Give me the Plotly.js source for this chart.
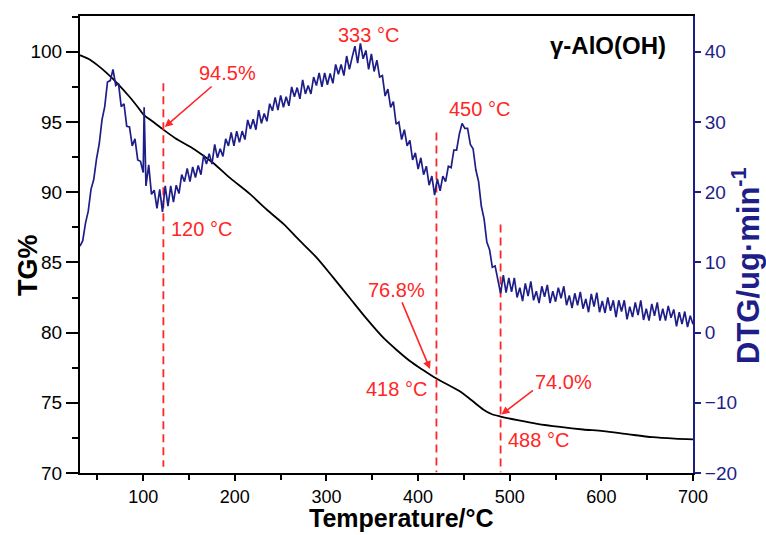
<!DOCTYPE html>
<html><head><meta charset="utf-8">
<script src="https://cdn.plot.ly/plotly-3.0.1.min.js"></script>
<style>html,body{margin:0;padding:0;background:#fff}#chart{width:766px;height:535px}</style>
</head><body><div id="chart"></div>
<script>
// ---- TG curve (left axis, %) ----
const tgTemp  = [31, 40, 50, 60, 72, 85, 94, 100, 110, 120, 135, 156, 176, 195, 216, 235, 253, 270, 289, 307, 325, 343, 362, 376, 391, 405, 418, 432, 445, 458, 471, 480, 490, 510, 530, 555, 580, 602, 630, 656, 680, 700];
const tgValue = [99.76, 99.5, 99.05, 98.5, 97.74, 96.8, 96.07, 95.55, 95.05, 94.55, 93.85, 93.05, 92.1, 91.0, 89.9, 88.75, 87.74, 86.6, 85.36, 83.95, 82.5, 81.05, 79.64, 78.8, 77.98, 77.35, 76.8, 76.3, 75.84, 75.2, 74.53, 74.2, 74.02, 73.74, 73.5, 73.28, 73.1, 72.98, 72.75, 72.55, 72.45, 72.4];

// ---- DTG curve (right axis, ug/min) ----
const dtgTemp = [31, 34, 37, 40, 43, 46, 49, 52, 55, 58, 61, 64, 67, 70, 73, 76, 79, 82, 85, 88, 91, 94, 97, 100, 101, 102, 103, 106, 109, 112, 115, 118, 121, 124, 127, 130, 133, 136, 139, 142, 145, 148, 151, 154, 157, 160, 163, 166, 169, 172, 175, 178, 181, 184, 187, 190, 193, 196, 199, 202, 205, 208, 211, 214, 217, 220, 223, 226, 229, 232, 235, 238, 241, 244, 247, 250, 253, 256, 259, 262, 265, 268, 271, 274, 277, 280, 283, 286, 289, 292, 295, 298, 301, 304, 307, 310, 313, 316, 319, 322, 325, 328, 331, 334, 337, 340, 343, 346, 349, 352, 355, 358, 361, 364, 367, 370, 373, 376, 379, 382, 385, 388, 391, 394, 397, 400, 403, 406, 409, 412, 415, 418, 421, 424, 427, 430, 433, 436, 439, 442, 445, 448, 451, 454, 457, 460, 463, 466, 469, 472, 475, 478, 481, 484, 487, 490, 493, 496, 499, 502, 505, 508, 511, 514, 517, 520, 523, 526, 529, 532, 535, 538, 541, 544, 547, 550, 553, 556, 559, 562, 565, 568, 571, 574, 577, 580, 583, 586, 589, 592, 595, 598, 601, 604, 607, 610, 613, 616, 619, 622, 625, 628, 631, 634, 637, 640, 643, 646, 649, 652, 655, 658, 661, 664, 667, 670, 673, 676, 679, 682, 685, 688, 691, 694, 697, 700];
const dtgValue = [12.3, 13.1, 15.6, 17.3, 20.4, 21.8, 24.7, 26.9, 30.3, 32.2, 35.7, 35.9, 37.5, 35.2, 35.5, 32.2, 32.6, 29.4, 29.3, 26.6, 27.6, 24.6, 24.4, 22.8, 32.1, 22.6, 20.9, 23.9, 19.7, 20.3, 17.7, 20.4, 17.2, 20.9, 18.0, 20.9, 18.6, 21.0, 19.8, 22.5, 21.5, 23.4, 21.5, 23.6, 22.1, 23.8, 22.5, 25.3, 24.0, 25.5, 24.0, 26.8, 24.9, 26.2, 25.1, 27.6, 26.6, 28.5, 26.6, 28.7, 27.1, 28.7, 27.5, 30.3, 29.0, 30.4, 28.9, 31.7, 29.8, 31.2, 30.1, 32.6, 31.6, 33.5, 31.7, 33.8, 32.1, 33.6, 32.3, 35.0, 33.6, 34.9, 33.3, 36.0, 34.0, 35.2, 34.0, 36.4, 35.2, 37.0, 35.0, 37.0, 35.3, 36.9, 35.5, 38.2, 36.8, 38.2, 36.6, 39.4, 37.5, 39.2, 40.8, 38.4, 41.2, 39.0, 40.2, 37.5, 39.7, 37.2, 38.8, 36.4, 36.6, 33.7, 34.7, 32.1, 32.9, 29.7, 30.0, 27.5, 28.9, 26.6, 27.4, 24.6, 25.6, 23.3, 24.9, 22.5, 23.7, 21.0, 22.3, 19.6, 21.9, 20.2, 22.3, 21.5, 23.7, 23.5, 26.0, 26.0, 28.3, 29.8, 29.1, 29.1, 26.8, 26.2, 23.2, 21.5, 18.0, 16.2, 12.9, 11.8, 9.3, 9.5, 7.4, 5.6, 8.2, 5.7, 7.8, 5.8, 7.8, 5.0, 6.4, 4.5, 7.0, 5.2, 7.3, 4.6, 5.9, 4.2, 6.6, 5.1, 6.8, 4.2, 5.9, 4.4, 6.4, 4.9, 6.6, 3.9, 5.3, 3.5, 5.6, 3.9, 5.8, 3.4, 4.8, 2.9, 5.5, 3.7, 5.7, 2.9, 4.5, 2.8, 5.0, 3.1, 4.6, 2.2, 4.6, 3.0, 4.6, 1.9, 3.7, 2.2, 4.3, 2.5, 4.6, 1.8, 3.4, 1.7, 4.1, 2.4, 4.3, 1.7, 3.4, 1.7, 3.8, 2.1, 3.3, 0.9, 2.9, 1.2, 3.0, 0.8, 2.4, 1.2];

// ---- vertical dashed markers (TG-axis units) ----
const markTemp   = [122, 420, 490];
const markTop    = [97.76, 94.26, 87.7];
const markBottom = [70.45, 70.05, 70.05];

// ---- red labels (TG-axis units) ----
const labelText = ['94.5%', '120 \u00B0C', '333 \u00B0C', '450 \u00B0C', '76.8%', '418 \u00B0C', '74.0%', '488 \u00B0C'];
const labelTemp = [192, 164, 346, 467.5, 376, 376, 559, 531];
const labelTG   = [98.5, 87.4, 101.2, 95.9, 83.04, 76.0, 76.51, 72.36];

// ---- arrows (TG-axis units) ----
const arrowHeadT  = [123.5, 413, 491];
const arrowHeadTG = [94.65, 77.4, 74.17];
const arrowTailT  = [176.3, 381.8, 527];
const arrowTailTG = [97.62, 82.26, 75.96];

const sampleName = '\u03B3-AlO(OH)';

const NAVY = '#1e1e88';
const RED = '#ff2626';
const FONT = 'Liberation Sans, Arial, sans-serif';

const markX = [], markY = [];
markTemp.forEach((t, i) => { markX.push(t, t, null); markY.push(markTop[i], markBottom[i], null); });

const traces = [
  {x: dtgTemp, y: dtgValue, yaxis: 'y2', type: 'scatter', mode: 'lines',
   line: {color: NAVY, width: 1.7}, hoverinfo: 'skip'},
  {x: tgTemp, y: tgValue, yaxis: 'y', type: 'scatter', mode: 'lines',
   line: {color: '#000', width: 1.8, shape: 'spline', smoothing: 0.8}, hoverinfo: 'skip'},
  {x: markX, y: markY, yaxis: 'y', type: 'scatter', mode: 'lines',
   line: {color: RED, width: 1.8, dash: '8px,5px'}, hoverinfo: 'skip'}
];

const annotations = [];
labelText.forEach((t, i) => annotations.push({
  x: labelTemp[i], y: labelTG[i], xref: 'x', yref: 'y', text: t, showarrow: false,
  font: {family: FONT, size: 20, color: RED}, xanchor: 'center', yanchor: 'middle'
}));
arrowHeadT.forEach((t, i) => annotations.push({
  x: t, y: arrowHeadTG[i], xref: 'x', yref: 'y', axref: 'x', ayref: 'y',
  ax: arrowTailT[i], ay: arrowTailTG[i], text: '', showarrow: true,
  arrowhead: 2, arrowsize: 1, arrowwidth: 1.6, arrowcolor: RED, standoff: 0, startstandoff: 0
}));
annotations.push({x: 607, y: 100.42, xref: 'x', yref: 'y', text: '<b>' + sampleName + '</b>', showarrow: false,
  xanchor: 'center', yanchor: 'middle', font: {family: FONT, size: 24, color: '#000'}});
annotations.push({x: -0.085, y: 0.455, xref: 'paper', yref: 'paper', text: '<b>TG%</b>', textangle: -90,
  xanchor: 'center', yanchor: 'middle', showarrow: false, font: {family: FONT, size: 27, color: '#000'}});
annotations.push({x: 0.5245, y: -0.1335, xref: 'paper', yref: 'paper', text: '<b>Temperature/\u00B0C</b>',
  xanchor: 'center', yanchor: 'bottom', showarrow: false, font: {family: FONT, size: 25, color: '#000'}});
annotations.push({x: 1.0865, y: 0.453, xref: 'paper', yref: 'paper', text: '<b>DTG/ug\u00B7min<sup>-1</sup></b>', textangle: -90,
  xanchor: 'center', yanchor: 'middle', showarrow: false, font: {family: FONT, size: 31, color: NAVY}});

const layout = {
  width: 766, height: 535,
  margin: {l: 80, r: 73, t: 16, b: 62},
  paper_bgcolor: '#fff', plot_bgcolor: '#fff',
  showlegend: false,
  font: {family: FONT},
  xaxis: {range: [31, 700], tickmode: 'linear', tick0: 100, dtick: 100,
    ticks: 'outside', ticklen: 6, tickwidth: 2, tickcolor: '#000',
    minor: {dtick: 50, tick0: 50, ticks: 'outside', ticklen: 5, tickwidth: 2, tickcolor: '#000'},
    showline: true, linewidth: 2, linecolor: '#000', mirror: true,
    showgrid: false, zeroline: false,
    tickfont: {family: FONT, size: 18, color: '#000'}},
  yaxis: {range: [70, 102.55], tickmode: 'linear', tick0: 70, dtick: 5,
    ticks: 'outside', ticklen: 12, tickwidth: 2, tickcolor: '#000',
    minor: {dtick: 2.5, tick0: 70, ticks: 'outside', ticklen: 6, tickwidth: 2, tickcolor: '#000'},
    showline: true, linewidth: 2, linecolor: '#000',
    showgrid: false, zeroline: false,
    tickfont: {family: FONT, size: 19, color: '#000'}},
  yaxis2: {overlaying: 'y', side: 'right', range: [-20, 45.1], tickmode: 'linear', tick0: -20, dtick: 10,
    ticks: 'outside', ticklen: 6, tickwidth: 2, tickcolor: NAVY,
    showline: true, linewidth: 2, linecolor: NAVY,
    showgrid: false, zeroline: false,
    tickfont: {family: FONT, size: 19, color: NAVY}},
  yaxis3: {overlaying: 'y', side: 'right', range: [70, 102.55], tickmode: 'linear', tick0: 70, dtick: 5,
    ticks: 'inside', ticklen: 8, tickwidth: 2, tickcolor: '#000',
    minor: {dtick: 2.5, tick0: 70, ticks: 'inside', ticklen: 5, tickwidth: 2, tickcolor: '#000'},
    showticklabels: false, showline: false, showgrid: false, zeroline: false},
  annotations: annotations
};

Plotly.newPlot('chart', traces, layout, {staticPlot: true, displayModeBar: false});
</script></body></html>
